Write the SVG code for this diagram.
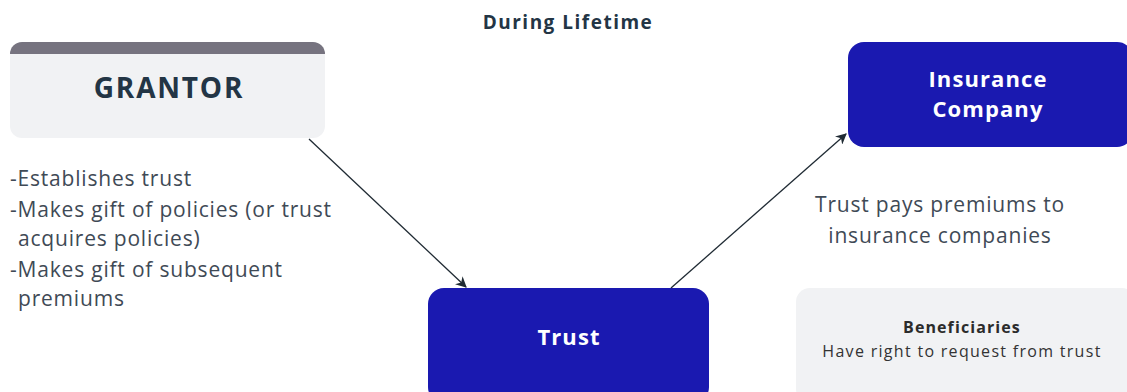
<svg xmlns="http://www.w3.org/2000/svg" width="1127" height="392" viewBox="0 0 1127 392">
<style>
text{font-family:"Open Sans","Liberation Sans",sans-serif}
.title{font-size:19px;font-weight:700;fill:#233545;text-anchor:middle;letter-spacing:1.5px}
.blue{fill:#1a19b0}
.grey{fill:#f1f2f4}
.wt{font-size:22px;font-weight:700;fill:#fff;text-anchor:middle;letter-spacing:1.1px}
.note{font-size:21px;fill:#3f4a56;letter-spacing:0.8px}
.conn{stroke:#1f2a33;stroke-width:1.3;fill:none;marker-end:url(#ah)}
</style>
<defs>
<marker id="ah" viewBox="0 0 10 10" refX="9" refY="5" markerWidth="11" markerHeight="11" markerUnits="userSpaceOnUse" orient="auto">
<path d="M0,0 L10,5 L0,10 L3,5 z" fill="#1f2a33"/>
</marker>
<clipPath id="gc"><rect x="10" y="42" width="315" height="96" rx="12"/></clipPath>
</defs>
<rect width="1127" height="392" fill="#fff"/>
<text class="title" x="568" y="29">During Lifetime</text>
<g id="grantor">
<g clip-path="url(#gc)">
<rect class="grey" x="10" y="42" width="315" height="96"/>
<rect x="10" y="42" width="315" height="12" fill="#76737f"/>
</g>
<text x="169" y="98" font-size="28" font-weight="700" fill="#233545" text-anchor="middle" letter-spacing="1.8">GRANTOR</text>
</g>
<g id="grantor-notes">
<text class="note" x="10" y="186">-Establishes trust</text>
<text class="note" x="10" y="217">-Makes gift of policies (or trust</text>
<text class="note" x="18" y="246">acquires policies)</text>
<text class="note" x="10" y="277">-Makes gift of subsequent</text>
<text class="note" x="18" y="306">premiums</text>
</g>
<g id="insurance">
<rect class="blue" x="848" y="42" width="285" height="105" rx="16"/>
<text class="wt" x="988" y="87">Insurance</text>
<text class="wt" x="988" y="117">Company</text>
</g>
<g id="insurance-note">
<text class="note" x="940" y="212" text-anchor="middle">Trust pays premiums to</text>
<text class="note" x="940" y="243" text-anchor="middle">insurance companies</text>
</g>
<g id="trust">
<rect class="blue" x="428" y="288" width="281" height="115" rx="16"/>
<text class="wt" x="569" y="345">Trust</text>
</g>
<g id="beneficiaries">
<rect class="grey" x="796" y="288" width="340" height="115" rx="14"/>
<text x="962" y="333" font-size="16" font-weight="700" fill="#2b2b2b" text-anchor="middle" letter-spacing="1.1">Beneficiaries</text>
<text x="962" y="357" font-size="16" fill="#333" text-anchor="middle" letter-spacing="1.3">Have right to request from trust</text>
</g>
<g id="connectors">
<line class="conn" x1="309" y1="139" x2="466" y2="287"/>
<line class="conn" x1="671" y1="288" x2="846" y2="134"/>
</g>
</svg>
